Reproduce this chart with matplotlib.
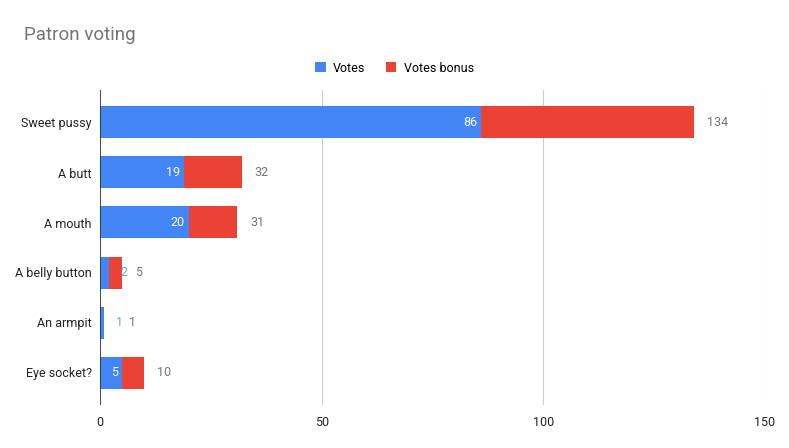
import matplotlib.pyplot as plt

# dados do gráfico
categorias = ['Sweet pussy', 'A butt', 'A mouth', 'A belly button', 'An armpit', 'Eye socket?']
votos = [86, 19, 20, 2, 1, 5]
bonus = [48, 13, 11, 3, 0, 5]
totais = [134, 32, 31, 5, 1, 10]
ticks_x = [0, 50, 100, 150]

azul = '#4285F4'
vermelho = '#EA4335'

plt.rcParams['font.family'] = ['Roboto', 'DejaVu Sans']

fig = plt.figure(figsize=(7.89, 4.48), dpi=100)
ax = fig.add_axes([100 / 789, 43 / 448, 665 / 789, 315 / 448])

y = list(range(len(categorias)))
ax.barh(y, votos, height=0.64, color=azul, label='Votes')
ax.barh(y, bonus, left=votos, height=0.64, color=vermelho, label='Votes bonus')

ax.set_xlim(0, 150)
ax.set_ylim(len(categorias) - 0.5 + 0.15, -0.5 - 0.15)
ax.set_yticks(y)
ax.set_yticklabels(categorias, fontsize=9, color='#222222')
ax.set_xticks(ticks_x)
ax.set_xticklabels([str(t) for t in ticks_x], fontsize=9, color='#222222')
ax.tick_params(length=0, pad=8)
ax.tick_params(axis='y', pad=6)

for s in ax.spines.values():
    s.set_visible(False)
ax.grid(axis='x', color='#cccccc', linewidth=0.8)
ax.set_axisbelow(True)
ax.axvline(0, color='#333333', linewidth=1.2)

# rótulos dos valores
for i in y:
    v = votos[i]
    largura_px = v * 665 / 150
    if largura_px > 22:
        ax.annotate(str(v), (v, i), xytext=(-3, 0), textcoords='offset points',
                    ha='right', va='center', fontsize=9, color='white')
    else:
        ax.annotate(str(v), (v, i), xytext=(8, 0), textcoords='offset points',
                    ha='left', va='center', fontsize=9, color='#6a9ff5')
    fim = votos[i] + bonus[i]
    desloc_total = 18 if bonus[i] == 0 else 9
    ax.annotate(str(totais[i]), (fim, i), xytext=(desloc_total, 0), textcoords='offset points',
                ha='left', va='center', fontsize=9, color='#757575')

fig.text(24 / 789, 1 - 35 / 448, 'Patron voting', fontsize=13.5, color='#757575', va='center')
fig.legend(loc='center', bbox_to_anchor=(0.5, 1 - 68 / 448), ncol=2, frameon=False,
           fontsize=9, handlelength=0.85, handleheight=0.85, columnspacing=1.6,
           handletextpad=0.6)

fig.savefig('out.png', dpi=100)
